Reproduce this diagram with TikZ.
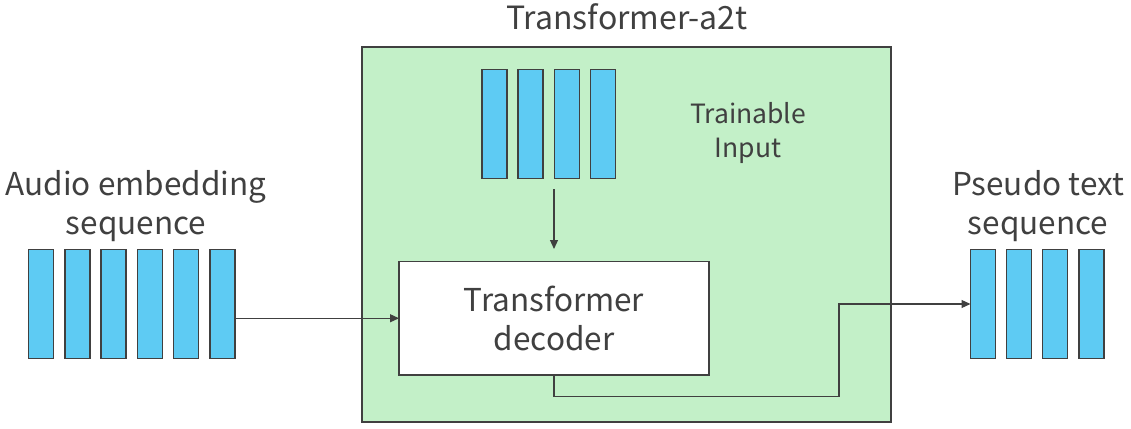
\documentclass[tikz,border=0pt]{standalone}
\usepackage{fontspec}
\setmainfont{Noto Sans CJK JP}
\usetikzlibrary{arrows.meta}
\definecolor{panel}{HTML}{C3F0C8}
\definecolor{cell}{HTML}{5ECBF3}
\definecolor{ink}{HTML}{404040}
\begin{document}
\begin{tikzpicture}[x=1pt,y=-1pt,
  bar/.style={draw=ink, line width=1.5pt, fill=cell, minimum width=25pt,
    minimum height=109pt, inner sep=0pt, outer sep=0pt, anchor=north west},
  lbl/.style={text=ink, align=center, inner sep=0pt, font=\fontsize{31.5}{39}\selectfont},
  small/.style={text=ink, align=center, inner sep=0pt, font=\fontsize{26.5}{34}\selectfont},
  wire/.style={draw=ink, line width=1.2pt},
  arr/.style={wire, -{Triangle[length=9pt,width=8pt]}}]
  \useasboundingbox (0,0) rectangle (1131,428);

  % model panel and decoder block
  \node[draw=ink, line width=1.5pt, fill=panel, minimum width=529pt, minimum height=375pt,
        inner sep=0pt, outer sep=0pt, anchor=north west] (panel) at (362,47) {};
  \node[lbl, font=\fontsize{32}{39}\selectfont] (title) at (627,17) {Transformer-a2t};
  \node[draw=ink, line width=1.5pt, fill=white, minimum width=310pt, minimum height=113.5pt,
        inner sep=0pt, outer sep=0pt, anchor=north west, lbl] (dec) at (399,261.5)
        {Transformer\\decoder};

  % audio embedding sequence
  \foreach \i/\x in {1/28.5,2/64.8,3/101.1,4/137.4,5/173.7,6/210}
    \node[bar] (a\i) at (\x,249.5) {};
  \node[lbl] (alab) at (136,206) {Audio embedding\\sequence};

  % trainable input
  \foreach \i/\x in {1/482,2/518,3/554.3,4/590.5}
    \node[bar] (t\i) at (\x,69.5) {};
  \node[small] (tlab) at (748,133) {Trainable\\Input};

  % pseudo text sequence
  \foreach \i/\x in {1/970.5,2/1006.3,3/1042.3,4/1079}
    \node[bar] (p\i) at (\x,249.5) {};
  \node[lbl] (plab) at (1038,206) {Pseudo text\\sequence};

  % connectors
  \draw[arr] (a6.east |- dec.west) -- (dec.west);
  \coordinate (tin) at (dec.north |- 0,189);
  \coordinate (tend) at (dec.north |- 0,249);
  \draw[arr] (tin) -- (tend);
  \coordinate (low) at (dec.south |- 0,396.5);
  \coordinate (bend) at (839,396.5);
  \coordinate (rise) at (839,304);
  \draw[arr] (dec.south) -- (low) -- (bend) -- (rise) -- (p1.west |- rise);
\end{tikzpicture}
\end{document}
